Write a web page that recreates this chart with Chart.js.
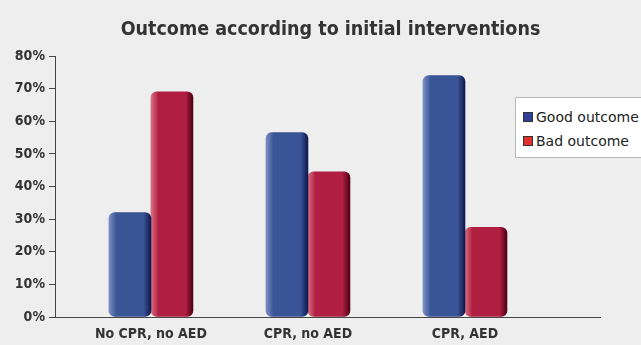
<!DOCTYPE html>
<html>
<head>
<meta charset="utf-8">
<script src="https://cdn.jsdelivr.net/npm/chart.js@4"></script>
<style>
  html, body { margin: 0; padding: 0; background: #eeeeee; }
  #wrap { position: relative; width: 641px; height: 345px; overflow: hidden; }
  #title {
    position: absolute; left: 0; top: 17px; width: 661px; text-align: center;
    font-family: "DejaVu Sans Condensed", sans-serif; font-weight: bold; font-size: 19.5px;
    line-height: 24px; color: #333;
  }
  #legend {
    position: absolute; left: 515px; top: 97px; width: 140px; height: 61px;
    background: #fff; border: 1px solid #b8b8b8; box-sizing: border-box;
    font-family: "DejaVu Sans", sans-serif; font-size: 14px; color: #222;
    padding: 7px 0 0 7px; line-height: 24px;
  }
  #legend span.sw { display: inline-block; width: 8px; height: 8px; border: 1px solid #333; margin-right: 3px; vertical-align: 0px; }
</style>
</head>
<body>
<div id="wrap">
  <canvas id="chart" width="641" height="345"></canvas>
  <div id="title"></div>
  <div id="legend"></div>
</div>
<script>
//------------- DATA -----------------

const chartTitle = "Outcome according to initial interventions";
const categories = ["No CPR, no AED", "CPR, no AED", "CPR, AED"];
const goodOutcome = [32, 56.5, 74];
const badOutcome = [69, 44.5, 27.5];
const yTicks = [0, 10, 20, 30, 40, 50, 60, 70, 80];

const seriesNames = ["Good outcome", "Bad outcome"];
const legendColors = ["#2f3f94", "#e0312d"];

// bar shading: light edge, body, dark edge
const shades = [
  ["#7d8fc4", "#3a5595", "#3a5595", "#0c1850"],
  ["#d9707f", "#b01f42", "#b01f42", "#4e0013"]
];

//------------- CHART -----------------

function barFill(ctx) {
  const chart = ctx.chart;
  const s = shades[ctx.datasetIndex];
  if (!chart.chartArea || ctx.type !== "data") return s[1];
  const cx = chart.scales.x.getPixelForValue(ctx.dataIndex) + (ctx.datasetIndex === 0 ? -21 : 21);
  const g = chart.ctx.createLinearGradient(cx - 21, 0, cx + 21, 0);
  g.addColorStop(0, s[0]);
  g.addColorStop(0.18, s[1]);
  g.addColorStop(0.82, s[2]);
  g.addColorStop(1, s[3]);
  return g;
}

const barStyle = {
  backgroundColor: barFill,
  borderWidth: 0,
  barThickness: 42,
  borderRadius: 6,
  borderSkipped: false
};

const data = {
  datasets: [
    Object.assign({ label: seriesNames[0], data: goodOutcome.map((v, i) => ({x: i, y: v})) }, barStyle),
    Object.assign({ label: seriesNames[1], data: badOutcome.map((v, i) => ({x: i, y: v})) }, barStyle)
  ]
};

const settings = {
  responsive: false,
  animation: false,
  layout: { padding: { left: 0, right: 41, top: 56, bottom: 0 } },
  plugins: {
    colors: { enabled: false },
    legend: { display: false },
    tooltip: { enabled: false },
    title: { display: false }
  },
  scales: {
    x: {
      type: "linear",
      offset: false,
      min: -0.611,
      max: 2.86,
      grid: { display: false },
      border: { display: true, color: "#444", width: 1 },
      afterBuildTicks: (scale) => { scale.ticks = categories.map((c, i) => ({value: i})); },
      afterFit: (scale) => { scale.height = 28; },
      ticks: {
        autoSkip: false,
        maxRotation: 0,
        color: "#333",
        padding: 1,
        font: { family: "DejaVu Sans Condensed", size: 14, weight: "bold" },
        callback: (v) => categories[v]
      }
    },
    y: {
      min: 0,
      max: 80,
      grid: { display: true, drawOnChartArea: false, tickLength: 6, color: "#444" },
      border: { display: true, color: "#444", width: 1 },
      afterBuildTicks: (scale) => { scale.ticks = yTicks.map(v => ({value: v})); },
      afterFit: (scale) => { scale.width = 55; },
      ticks: {
        color: "#333",
        padding: 4,
        font: { family: "DejaVu Sans Condensed", size: 14, weight: "bold" },
        callback: (v) => v + "%"
      }
    }
  }
};

const canvasBg = {
  id: "canvasBg",
  beforeDraw(chart) {
    const c = chart.ctx;
    c.save();
    c.fillStyle = "#eeeeee";
    c.fillRect(0, 0, chart.width, chart.height);
    c.restore();
  }
};

const ctx = document.getElementById("chart");
const chart = new Chart(ctx, {type: "bar", data: data, options: settings, plugins: [canvasBg]});

document.getElementById("title").textContent = chartTitle;

// html legend from the series names
document.getElementById("legend").innerHTML = seriesNames.map((n, i) =>
  '<div><span class="sw" style="background:' + legendColors[i] + '"></span>' + n + '</div>').join("");
</script>
</body>
</html>
